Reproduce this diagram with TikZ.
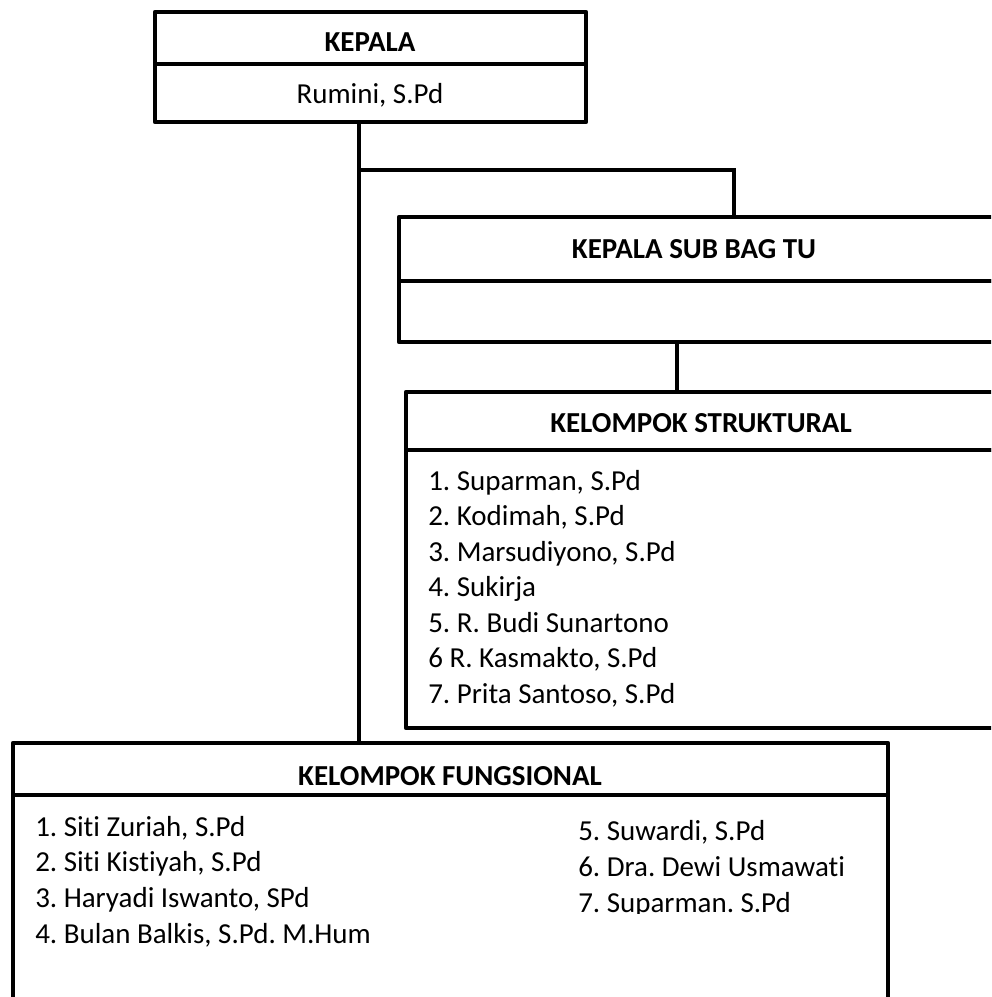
\documentclass[tikz,border=0pt]{standalone}
\usepackage{fontspec}
\setmainfont{Carlito}[Ligatures={NoCommon,NoRare,NoContextual}]
\frenchspacing
\newdimen\pxu \pxu=0.025cm
\tikzset{
  box/.style={draw, rectangle, line width=3.05pt, line join=round, inner sep=0pt, outer sep=0pt, anchor=north west},
  conn/.style={line width=2.4pt},
  hd/.style={font=\bfseries\fontsize{20.6}{25}\selectfont, inner sep=0pt, anchor=base},
  rg/.style={font=\fontsize{20.6}{25}\selectfont, inner sep=0pt, anchor=base},
  item/.style={font=\fontsize{20.6}{25}\selectfont, inner sep=0pt, anchor=base west},
}
\begin{document}
\frenchspacing
\begin{tikzpicture}[x=0.025cm, y=-0.025cm]
\useasboundingbox (0,0) rectangle (991,997);
\clip (0,0) rectangle (991,997);
% coordinates for connector lines
\coordinate (t) at (359,0);
\coordinate (b) at (734,170);
\coordinate (c) at (677,0);
% boxes
\node[box, minimum width=431\pxu, minimum height=52\pxu] (kh) at (155,12) {};
\node[box, minimum width=431\pxu, minimum height=58\pxu] (kb) at (155,64) {};
\node[box, minimum width=620\pxu, minimum height=64\pxu] (sh) at (399,217) {};
\node[box, minimum width=620\pxu, minimum height=61\pxu] (sb) at (399,281) {};
\node[box, minimum width=620\pxu, minimum height=58\pxu] (th) at (406,392) {};
\node[box, minimum width=620\pxu, minimum height=278\pxu] (tb) at (406,450) {};
\node[box, minimum width=875\pxu, minimum height=52\pxu] (fh) at (13,743) {};
\node[box, minimum width=875\pxu, minimum height=240\pxu] (fb) at (13,795) {};
% connectors
\draw[conn] (kb.south -| t) -- (fh.north -| t);
\draw[conn] (b -| t) -- (b) -- (sh.north -| b);
\draw[conn] (sb.south -| c) -- (th.north -| c);
% headers
\node[hd] (kt) at (370,52) {KEPALA};
\node[rg] (kn) at (370,104) {Rumini, S.Pd};
\node[hd] (st) at (694,259) {KEPALA SUB BAG TU};
\node[hd] (tt) at (701,432) {KELOMPOK STRUKTURAL};
\node[hd] (ft) at (450,785) {KELOMPOK FUNGSIONAL};
% struktural list
\foreach \txt [count=\i] in {{1. Suparman, S.Pd},{2. Kodimah, S.Pd},{3. Marsudiyono, S.Pd},{4. Sukirja},{5. R. Budi Sunartono},{6 R. Kasmakto, S.Pd},{7. Prita Santoso, S.Pd}}
  \node[item] (s\i) at (428,{490+(\i-1)*35.5}) {\txt};
% fungsional list, left
\foreach \txt [count=\i] in {{1. Siti Zuriah, S.Pd},{2. Siti Kistiyah, S.Pd},{3. Haryadi Iswanto, SPd},{4. Bulan Balkis, S.Pd. M.Hum}}
  \node[item] (f\i) at (35,{836+(\i-1)*35.7}) {\txt};
% fungsional list, right
\node[item] (f5) at (578,840) {5. Suwardi, S.Pd};
\node[item] (f6) at (578,876) {6. Dra. Dewi Usmawati};
\begin{scope}
\clip (560,880) rectangle (880,913);
\node[item] (f7) at (578,912) {7. Suparman. S.Pd};
\end{scope}
\end{tikzpicture}
\end{document}
